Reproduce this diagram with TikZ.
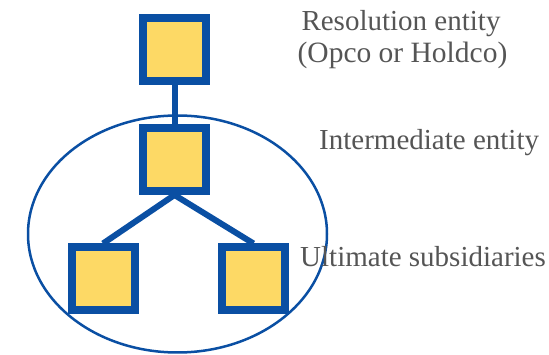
\documentclass[tikz,border=0pt]{standalone}
\usepackage{fontspec}
\setmainfont{Liberation Serif}
\usetikzlibrary{backgrounds}
\definecolor{entblue}{HTML}{0A4FA3}
\definecolor{entfill}{HTML}{FDD965}
\definecolor{labelgray}{HTML}{555555}
\begin{document}
\begin{tikzpicture}[x=1pt,y=-1pt,
  entity/.style={draw=entblue, fill=entfill, line width=8pt,
    minimum size=63pt, inner sep=0pt},
  link/.style={draw=entblue, line width=6pt},
  group/.style={draw=entblue, line width=2.5pt},
  tag/.style={text=labelgray, font=\fontsize{29}{32}\selectfont,
    inner sep=0pt}]
  \useasboundingbox (0,0) rectangle (549,355);

  % entities
  \node[entity] (res) at (174.5,49.5) {};
  \node[entity] (mid) at (174.5,159.5) {};
  \node[entity] (subL) at (103,279) {};
  \node[entity] (subR) at (253.5,279) {};

  % ownership links
  \begin{scope}[on background layer]
    \draw[link] (res.south) -- (mid.north);
    \draw[link] (mid.south) -- (subL.north);
    \draw[link] (mid.south) -- (subR.north);
  \end{scope}

  % group boundary
  \draw[group] (177.5,234) ellipse [x radius=149.5, y radius=118.5];

  % labels
  \node[tag, anchor=base] (lres1) at (401,31) {Resolution entity};
  \node[tag, anchor=base, font=\fontsize{29.5}{32}\selectfont] (lres2) at (402.5,63) {(Opco or Holdco)};
  \node[tag, anchor=base west] (lmid) at (319,150) {Intermediate entity};
  \node[tag, anchor=base west] (lsub) at (300,267) {Ultimate subsidiaries};
\end{tikzpicture}
\end{document}
